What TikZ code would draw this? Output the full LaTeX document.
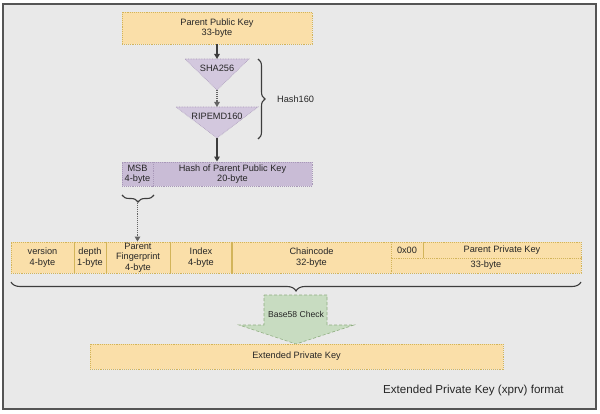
\documentclass[tikz,border=0pt]{standalone}
\usepackage{fontspec}
\setmainfont{Liberation Sans}
\usetikzlibrary{decorations.pathreplacing,arrows.meta,calc}
\definecolor{bgc}{HTML}{E9E9E9}
\definecolor{framec}{HTML}{555555}
\definecolor{orangef}{HTML}{FADFA9}
\definecolor{orangel}{HTML}{D2B45A}
\definecolor{purplef}{HTML}{C9BCD6}
\definecolor{purplel}{HTML}{A898B8}
\definecolor{trif}{HTML}{D3C8DE}
\definecolor{greenf}{HTML}{C8DCC1}
\definecolor{greenl}{HTML}{8FAE80}
\definecolor{txt}{HTML}{262626}
\definecolor{arrc}{HTML}{3D3D3D}
\newcommand{\lblfont}{\fontsize{9.2}{10.4}\selectfont}
\begin{document}
\begin{tikzpicture}[x=1pt,y=-1pt,
  box/.style={draw=orangel, densely dotted, line width=0.9pt, fill=orangef, inner sep=0pt, text=txt, align=center, font=\lblfont},
  pbox/.style={draw=purplel, densely dotted, line width=0.9pt, fill=purplef, inner sep=0pt, text=txt, align=center, font=\lblfont},
  tri/.style={fill=trif, draw=purplel, densely dotted, line width=0.6pt},
  lbl/.style={text=txt, font=\lblfont, inner sep=0pt},
  sep/.style={draw=orangel, line width=0.9pt},
  arr/.style={draw=arrc, line width=1.3pt, -{Triangle[length=5pt,width=5.5pt]}},
  darr/.style={draw=arrc!80, densely dotted, line width=1.1pt, -{Triangle[length=5pt,width=5.5pt]}},
  brc/.style={draw=arrc, line width=1.1pt, decorate}
]
\useasboundingbox (0,0) rectangle (600,414);
\fill[white] (0,0) rectangle (600,414);
\draw[fill=bgc, draw=framec, line width=1.6pt] (3,4) rectangle (596,409);

% top box
\node[box, minimum width=190pt, minimum height=32pt] (ppk) at (217,28) {Parent Public Key\\33-byte};

% triangles
\coordinate (shatop) at (217,59);
\coordinate (shatip) at (217,90);
\filldraw[tri] (185,59) -- (249,59) -- (shatip) -- cycle;
\node[lbl] (sha) at (217,68) {SHA256};
\coordinate (riptop) at (217,107);
\coordinate (riptip) at (217,138);
\filldraw[tri] (176,107) -- (258,107) -- (riptip) -- cycle;
\node[lbl] (rip) at (217,116) {RIPEMD160};

% hash160 brace
\draw[brc, decoration={brace, amplitude=7pt}] (258,59) -- (258,139);
\node[lbl, anchor=west] (h160) at (277,99) {Hash160};

% hash box
\node[pbox, minimum width=31pt, minimum height=24pt] (msb) at (137.5,174) {MSB\\4-byte};
\node[pbox, minimum width=159pt, minimum height=24pt] (hash) at (232.5,174) {Hash of Parent Public Key\\20-byte};

% arrows
\draw[arr] (ppk.south) -- (shatop);
\draw[darr] (shatip) -- (riptop);
\draw[arr] (riptip) -- (hash.north -| riptip);

% MSB brace
\draw[brc, decoration={brace, amplitude=7pt}] (154,195) -- (122,195);
\coordinate (msbtip) at (137.5,203);

% row
\node[box, minimum width=63pt, minimum height=31pt] (ver) at (42.5,257.5) {version\\4-byte};
\node[box, minimum width=32pt, minimum height=31pt] (dep) at (90,257.5) {depth\\1-byte};
\node[box, minimum width=64pt, minimum height=31pt] (pf) at (138,257.5) {Parent\\Fingerprint\\4-byte};
\node[box, minimum width=62pt, minimum height=31pt] (idx) at (201,257.5) {Index\\4-byte};
\node[box, minimum width=159pt, minimum height=31pt] (cc) at (311.5,257.5) {Chaincode\\32-byte};
\node[box, minimum width=32pt, minimum height=16pt] (zz) at (407,250) {0x00};
\node[box, minimum width=158pt, minimum height=16pt] (ppriv) at (502,250) {Parent Private Key};
\node[box, minimum width=190pt, minimum height=15pt] (b33) at (486,265.5) {33-byte};
\foreach \n in {ver,dep,pf,idx} \draw[sep] (\n.north east) -- (\n.south east);
\draw[sep] (cc.north west) -- (cc.south west);
\draw[sep] (zz.north east) -- (zz.south east);

\draw[darr] (msbtip) -- (pf.north -| msbtip);

% big brace
\draw[brc, decoration={brace, amplitude=9pt}] (581,282) -- (11,282);

% Base58 arrow
\filldraw[fill=greenf, draw=greenl, densely dashed, line width=0.6pt]
  (264,295) -- (327,295) -- (327,325) -- (354,325) -- (296,344) -- (239,325) -- (264,325) -- cycle;
\node[lbl, font=\fontsize{8.6}{10}\selectfont] (b58) at (296,314) {Base58 Check};

% extended key
\node[box, minimum width=413pt, minimum height=25pt] (xprv) at (296.5,356.5) {Extended Private Key};

\node[lbl, anchor=west, font=\fontsize{11.6}{13}\selectfont] (cap) at (383,391) {Extended Private Key (xprv) format};
\end{tikzpicture}
\end{document}
